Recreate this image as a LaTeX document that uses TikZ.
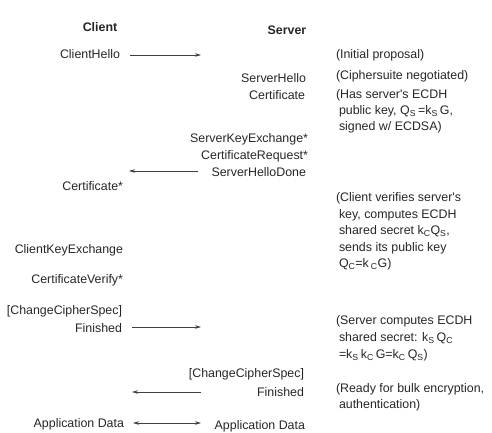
\documentclass[tikz,border=0pt]{standalone}
\usepackage{fontspec}
\setmainfont{Liberation Sans}
\usetikzlibrary{arrows.meta}
\newcommand{\sbs}[1]{\textsubscript{#1}}
\begin{document}
\begin{tikzpicture}[x=1pt,y=-1pt,
  every node/.style={inner sep=0pt,outer sep=0pt,text=black!85,font=\fontsize{12.4}{16}\selectfont},
  cli/.style={anchor=east},
  srv/.style={anchor=east},
  note/.style={anchor=north west,align=left},
  head/.style={font=\fontsize{12.4}{16}\selectfont\bfseries},
  msg/.style={draw=black!75,line width=0.6pt,-{Stealth[length=6pt,width=3.5pt]}},
  msgb/.style={draw=black!75,line width=0.6pt,{Stealth[length=6pt,width=3.5pt]}-{Stealth[length=6pt,width=3.5pt]}}]
\useasboundingbox (0,0) rectangle (492,433);
% headings
\node[head] (hc) at (100,27) {Client};
\node[head] (hs) at (287,30) {Server};
% client column
\node[cli] (ch) at (120,54) {ClientHello};
\node[cli] (ccert) at (123,186) {Certificate*};
\node[cli] (cke) at (123,250) {ClientKeyExchange};
\node[cli] (cv) at (123,280) {CertificateVerify*};
\node[cli] (cccs) at (122,311) {[ChangeCipherSpec]};
\node[cli] (cfin) at (122,328) {Finished};
\node[cli] (cad) at (124,424) {Application Data};
% server column
\node[srv] (sh) at (306,78) {ServerHello};
\node[srv] (scert) at (305,95) {Certificate};
\node[srv] (ske) at (308,139) {ServerKeyExchange*};
\node[srv] (scr) at (308,156) {CertificateRequest*};
\node[srv] (shd) at (306,172) {ServerHelloDone};
\node[srv] (sccs) at (304,374) {[ChangeCipherSpec]};
\node[srv] (sfin) at (304,392) {Finished};
\node[srv] (sad) at (305,426) {Application Data};
% notes
\node[note,anchor=west] (n1) at (336,55) {(Initial proposal)};
\node[note,anchor=west] (n2) at (336,76) {(Ciphersuite negotiated)};
\node[note,font=\fontsize{12.4}{15.8}\selectfont] (n3) at (336,90) {(Has server\textquotesingle s ECDH\\\hspace{3pt}public key, Q\sbs{S}\,=k\sbs{S}\,G,\\\hspace{3pt}signed w/ ECDSA)};
\node[note,font=\fontsize{12.4}{16.5}\selectfont] (n4) at (336,193) {(Client verifies server\textquotesingle s\\\hspace{3pt}key, computes ECDH\\\hspace{3pt}shared secret k\sbs{C}Q\sbs{S},\\\hspace{3pt}sends its public key\\\hspace{3pt}Q\sbs{C}=k\,\sbs{C}G)};
\node[note,font=\fontsize{12.4}{16.8}\selectfont] (n5) at (336,316) {(Server computes ECDH\\\hspace{3pt}shared secret: k\sbs{S}\,Q\sbs{C}\\\hspace{3pt}=k\sbs{S}\,k\sbs{C}\,G=k\sbs{C}\,Q\sbs{S})};
\node[note] (n6) at (336,384) {(Ready for bulk encryption,\\\hspace{3pt}authentication)};
% arrow end points
\coordinate (a1s) at (130,55);  \coordinate (a1e) at (201,55);
\coordinate (a2s) at (198,171); \coordinate (a2e) at (129,171);
\coordinate (a3s) at (132,327); \coordinate (a3e) at (201,327);
\coordinate (a4s) at (201,392); \coordinate (a4e) at (132,392);
\coordinate (a5s) at (133,423); \coordinate (a5e) at (201,423);
\draw[msg] (a1s) -- (a1e);
\draw[msg] (a2s) -- (a2e);
\draw[msg] (a3s) -- (a3e);
\draw[msg] (a4s) -- (a4e);
\draw[msgb] (a5s) -- (a5e);
\end{tikzpicture}
\end{document}
